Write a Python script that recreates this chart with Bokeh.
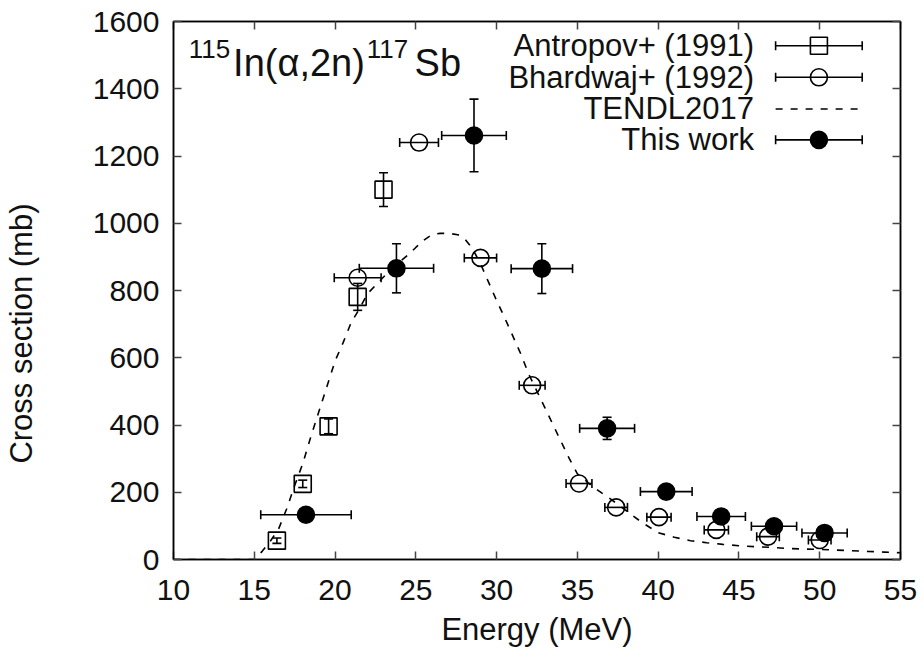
from bokeh.plotting import figure
from bokeh.models import (Range1d, FixedTicker, LinearAxis, Whisker, TeeHead,
                          ColumnDataSource, Label)
from bokeh.embed import file_html
from bokeh.resources import INLINE

# ---------------- data ----------------
x_ticks = [10, 15, 20, 25, 30, 35, 40, 45, 50, 55]
y_ticks = [0, 200, 400, 600, 800, 1000, 1200, 1400, 1600]

# Antropov+ (1991)
antropov_e = [16.4, 18.0, 19.6, 21.4, 23.0]
antropov_cs = [56, 225, 396, 781, 1100]
antropov_dcs = [8, 11, 22, 40, 50]

# Bhardwaj+ (1992)
bhardwaj_e = [21.4, 25.2, 29.0, 32.2, 35.1, 37.4, 40.05, 43.6, 46.8, 50.0]
bhardwaj_de = [1.45, 1.2, 1.0, 0.8, 0.8, 0.7, 0.75, 0.75, 0.7, 0.7]
bhardwaj_cs = [838, 1240, 897, 518, 226, 155, 126, 88, 68, 58]

# TENDL2017
tendl_e = [10, 12, 14, 15, 15.5, 16, 16.5, 17, 17.5, 18, 18.5, 19, 19.5, 20, 20.5,
           21, 21.5, 22, 22.5, 23, 23.5, 24, 24.5, 25, 25.5, 26, 26.5, 27, 27.6,
           28, 28.5, 29, 29.5, 30, 30.5, 31, 31.5, 32, 32.5, 33, 33.5, 34, 34.5,
           35, 35.5, 36, 36.5, 37, 38, 39, 40, 41, 42, 43, 44, 45, 46, 47, 48,
           49, 50, 51, 52, 53, 54, 55]
tendl_cs = [0, 0, 0, 0, 25, 55, 90, 150, 220, 285, 365, 440, 515, 590, 645,
            705, 745, 790, 815, 840, 865, 885, 905, 928, 950, 966, 970, 970, 966,
            955, 925, 880, 825, 770, 719, 665, 611, 550, 500, 450, 400, 350, 300,
            255, 235, 215, 198, 182, 146, 110, 80, 66, 56, 50, 45, 41, 38, 36, 33,
            31, 30, 28, 26, 24, 22, 20]

# This work
this_e = [18.2, 23.8, 28.6, 32.8, 36.84, 40.5, 43.9, 47.17, 50.3]
this_de = [2.8, 2.3, 2.0, 1.9, 1.7, 1.6, 1.5, 1.4, 1.4]
this_cs = [133, 866, 1261, 865, 390, 202, 128, 99, 79]
this_dcs = [10, 73, 108, 74, 33, 12, 8, 7, 6]

legend_labels = ["Antropov+ (1991)", "Bhardwaj+ (1992)", "TENDL2017", "This work"]
x_label = "Energy (MeV)"
y_label = "Cross section (mb)"

FONT = "Liberation Sans"
INK = "#111111"
# gnuplot draws the y title a little below the frame centre: pad its end
Y_LABEL_PAD = "\u00a0" * 10

# ---------------- figure ----------------
p = figure(width=924, height=659, output_backend="svg", toolbar_location=None,
           x_range=Range1d(10, 55), y_range=Range1d(0, 1600),
           min_border_left=172, min_border_right=24, min_border_top=21,
           min_border_bottom=100)
p.xgrid.visible = False
p.ygrid.visible = False
p.outline_line_color = "black"
p.outline_line_width = 1.5
p.background_fill_color = "white"
p.border_fill_color = "white"

def style_axis(ax, show_labels=True):
    ax.major_tick_in = 8
    ax.major_tick_out = 0
    ax.minor_tick_line_color = None
    ax.axis_line_width = 1.5
    ax.major_tick_line_width = 1.5
    ax.major_tick_line_color = "#444444"
    if show_labels:
        ax.major_label_text_font = FONT
        ax.major_label_text_font_size = "30px"
        ax.major_label_text_color = INK
        ax.axis_label_text_font = FONT
        ax.axis_label_text_font_size = "31px"
        ax.axis_label_text_font_style = "normal"
        ax.axis_label_text_color = INK
    else:
        ax.major_label_text_font_size = "1px"
        ax.major_label_text_color = None
        ax.major_label_standoff = 0

style_axis(p.xaxis[0])
style_axis(p.yaxis[0])
p.xaxis.ticker = FixedTicker(ticks=x_ticks)
p.yaxis.ticker = FixedTicker(ticks=y_ticks)
p.xaxis.major_label_standoff = 20
p.yaxis.major_label_standoff = 14

p.xaxis.axis_label = x_label
p.xaxis.axis_label_standoff = 9
p.yaxis.axis_label = y_label + Y_LABEL_PAD
p.yaxis.axis_label_standoff = 51

# mirrored ticks on top and right
top_ax = LinearAxis(ticker=FixedTicker(ticks=x_ticks))
right_ax = LinearAxis(ticker=FixedTicker(ticks=y_ticks))
style_axis(top_ax, show_labels=False)
style_axis(right_ax, show_labels=False)
p.add_layout(top_ax, "above")
p.add_layout(right_ax, "right")

# TENDL curve
p.line(tendl_e, tendl_cs, line_color="black", line_width=1.6, line_dash="7 8")

def head():
    return TeeHead(size=9, line_width=1.6, line_color="black")

# Antropov
src_a = ColumnDataSource(dict(x=antropov_e, y=antropov_cs,
                              lo=[y - d for y, d in zip(antropov_cs, antropov_dcs)],
                              hi=[y + d for y, d in zip(antropov_cs, antropov_dcs)]))
p.add_layout(Whisker(source=src_a, base="x", lower="lo", upper="hi", dimension="height",
                     line_width=1.6, line_color="black",
                     lower_head=head(), upper_head=head()))
p.scatter("x", "y", source=src_a, marker="square", size=17, fill_color=None,
          line_color="black", line_width=1.6)

# Bhardwaj
src_b = ColumnDataSource(dict(x=bhardwaj_e, y=bhardwaj_cs,
                              lo=[x - d for x, d in zip(bhardwaj_e, bhardwaj_de)],
                              hi=[x + d for x, d in zip(bhardwaj_e, bhardwaj_de)]))
p.add_layout(Whisker(source=src_b, base="y", lower="lo", upper="hi", dimension="width",
                     line_width=1.6, line_color="black",
                     lower_head=head(), upper_head=head()))
p.scatter("x", "y", source=src_b, marker="circle", size=17, fill_color=None,
          line_color="black", line_width=1.6)

# This work
src_t = ColumnDataSource(dict(x=this_e, y=this_cs,
                              xlo=[x - d for x, d in zip(this_e, this_de)],
                              xhi=[x + d for x, d in zip(this_e, this_de)],
                              ylo=[y - d for y, d in zip(this_cs, this_dcs)],
                              yhi=[y + d for y, d in zip(this_cs, this_dcs)]))
p.add_layout(Whisker(source=src_t, base="y", lower="xlo", upper="xhi", dimension="width",
                     line_width=1.6, line_color="black",
                     lower_head=head(), upper_head=head()))
p.add_layout(Whisker(source=src_t, base="x", lower="ylo", upper="yhi", dimension="height",
                     line_width=1.6, line_color="black",
                     lower_head=head(), upper_head=head()))
p.scatter("x", "y", source=src_t, marker="circle", size=17, fill_color="black",
          line_color="black", line_width=1.6)

# ---------------- legend (gnuplot style: text right-aligned, sample on right) -------
LEG_TEXT_X = 45.93
LEG_CX = 49.95
LEG_HALF = 2.68
LEG_ROWS = [1528, 1434, 1340, 1248]

for txt, ry in zip(legend_labels, LEG_ROWS):
    p.add_layout(Label(x=LEG_TEXT_X, y=ry, text=txt, text_align="right",
                       text_baseline="middle", text_font=FONT,
                       text_font_size="31px", text_color=INK))

leg_src = ColumnDataSource(dict(y=[LEG_ROWS[0], LEG_ROWS[1], LEG_ROWS[3]],
                                lo=[LEG_CX - LEG_HALF] * 3,
                                hi=[LEG_CX + LEG_HALF] * 3))
p.add_layout(Whisker(source=leg_src, base="y", lower="lo", upper="hi", dimension="width",
                     line_width=1.6, line_color="black",
                     lower_head=head(), upper_head=head()))
p.scatter([LEG_CX], [LEG_ROWS[0]], marker="square", size=17, fill_color=None,
          line_color="black", line_width=1.6)
p.scatter([LEG_CX], [LEG_ROWS[1]], marker="circle", size=17, fill_color=None,
          line_color="black", line_width=1.6)
p.line([LEG_CX - LEG_HALF, LEG_CX + LEG_HALF], [LEG_ROWS[2], LEG_ROWS[2]],
       line_color="black", line_width=1.6, line_dash="7 8")
p.scatter([LEG_CX], [LEG_ROWS[3]], marker="circle", size=17, fill_color="black",
          line_color="black", line_width=1.6)

# ---------------- reaction title ----------------
TITLE_BASE = 1478
SUP_BASE = 1519
parts = [("115", 10.945, SUP_BASE, "26px"),
         ("In(α,2n)", 13.69, TITLE_BASE, "38px"),
         ("117", 21.96, SUP_BASE, "26px"),
         ("Sb", 24.92, TITLE_BASE, "38px")]
for txt, tx, ty, fs in parts:
    p.add_layout(Label(x=tx, y=ty, text=txt, text_align="left",
                       text_baseline="alphabetic", text_font=FONT,
                       text_font_size=fs, text_color=INK))

open("out.html", "w").write(file_html(p, INLINE))
